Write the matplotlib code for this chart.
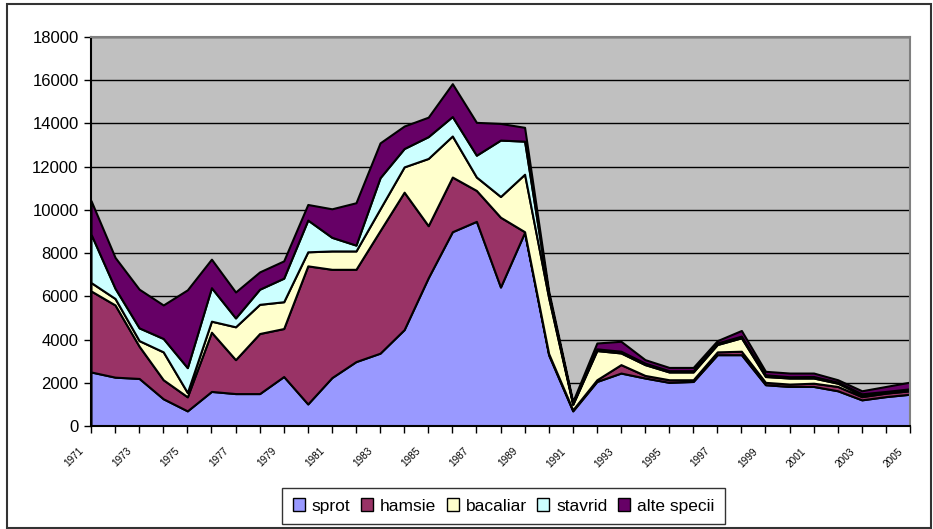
import matplotlib
matplotlib.use("Agg")
import matplotlib.pyplot as plt
import matplotlib.transforms as mtransforms
from matplotlib.patches import Rectangle, Patch

years = list(range(1971, 2006))
sprot = [2500, 2260, 2200, 1260, 700, 1600, 1500, 1500, 2290, 1020, 2240, 2980, 3370, 4460, 6860,
         8990, 9470, 6430, 8960, 3290, 700, 2060, 2450, 2220, 2020, 2060, 3300, 3300, 1910, 1830,
         1830, 1630, 1210, 1360, 1470]
hamsie = [3750, 3340, 1490, 880, 650, 2740, 1570, 2780, 2220, 6390, 5010, 4270, 5670, 6360, 2410,
          2530, 1430, 3230, 30, 60, 50, 80, 390, 120, 120, 80, 130, 160, 110, 110,
          150, 200, 150, 160, 160]
bacaliar = [390, 300, 260, 1290, 200, 510, 1520, 1350, 1240, 650, 850, 850, 1010, 1170, 3110,
            1900, 620, 960, 2660, 2580, 250, 1350, 540, 500, 360, 360, 340, 620, 270, 280,
            240, 150, 80, 50, 40]
stavrid = [2240, 470, 590, 620, 1150, 1550, 410, 700, 1090, 1470, 630, 270, 1440, 850, 1010,
           900, 1010, 2610, 1530, 160, 50, 80, 80, 70, 60, 60, 70, 80, 80, 60,
           70, 50, 50, 30, 50]
alte_specii = [1550, 1430, 1790, 1550, 3600, 1320, 1200, 800, 800, 720, 1320, 1960, 1610, 1040, 900,
               1520, 1520, 770, 640, 150, 80, 270, 460, 160, 150, 150, 110, 260, 160, 170,
               160, 110, 140, 230, 310]

series_names = ["sprot", "hamsie", "bacaliar", "stavrid", "alte specii"]
colors = ["#9999FF", "#993366", "#FFFFCC", "#CCFFFF", "#660066"]
yticks = list(range(0, 18001, 2000))
xtick_labels = [str(y) for y in years[::2]]

plt.rcParams['font.family'] = ['Liberation Sans', 'DejaVu Sans']

W, H = 933, 529
fig = plt.figure(figsize=(W / 100, H / 100), dpi=100)
ax = fig.add_axes([91 / W, 1 - 426 / H, (910 - 91) / W, (426 - 37) / H])

ax.set_facecolor("#C0C0C0")
ax.set_axisbelow(True)
ax.yaxis.grid(True, color="black", linewidth=1.0)

ax.stackplot(years, sprot, hamsie, bacaliar, stavrid, alte_specii,
             colors=colors, edgecolor="black", linewidth=1.5, labels=series_names, zorder=2)

ax.set_xlim(years[0], years[-1])
ax.set_ylim(0, 18000)
ax.set_yticks(yticks)
ax.set_yticklabels([str(v) for v in yticks], fontsize=12)
ax.set_xticks(years)
ax.set_xticklabels([])

# rotated year labels, placed just left of their ticks
base = mtransforms.blended_transform_factory(ax.transData, ax.transAxes)
offset = mtransforms.ScaledTranslation(-17 / 100, -20 / 100, fig.dpi_scale_trans)
for lab in xtick_labels:
    ax.text(int(lab), 0, lab, transform=base + offset, fontsize=7.2, rotation=45,
            ha="center", va="top", clip_on=False)

ax.tick_params(axis="both", direction="out", length=5, color="black", width=1)
ax.tick_params(axis="y", pad=4)
for s in ax.spines.values():
    s.set_color("#808080")
    s.set_linewidth(1.5)
ax.spines["left"].set_color("black")
ax.spines["bottom"].set_color("black")

handles = [Patch(facecolor=c, edgecolor="black", linewidth=1.0) for c in colors]
leg = fig.legend(handles, series_names, loc="center", bbox_to_anchor=(503.5 / W, 1 - 506 / H),
                 ncol=5, fontsize=12.5, frameon=True, fancybox=False, handlelength=0.7,
                 handleheight=0.7, handletextpad=0.4, columnspacing=0.6, borderpad=0.6)
leg.get_frame().set_edgecolor("black")
leg.get_frame().set_linewidth(1.0)

fig.patches.append(Rectangle((6.5 / W, 1 / H), (931 - 6.5) / W, (525 - 1) / H,
                             transform=fig.transFigure, fill=False,
                             edgecolor="#333333", linewidth=1.5))

fig.savefig("out.png", dpi=100)
